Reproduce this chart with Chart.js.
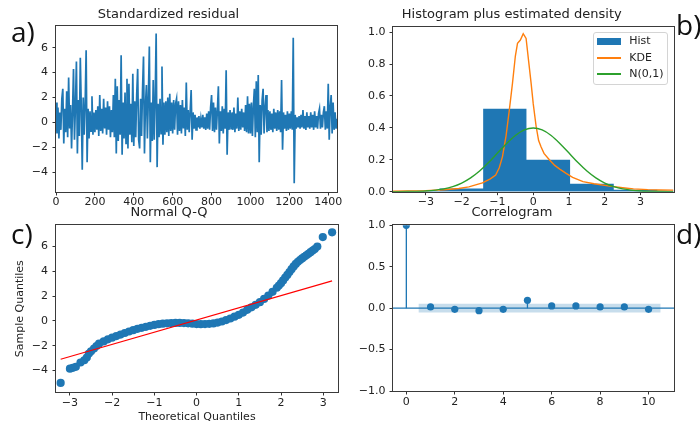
<!DOCTYPE html>
<html>
<head>
<meta charset="utf-8">
<script src="https://cdn.jsdelivr.net/npm/chart.js@4.4.1/dist/chart.umd.min.js"></script>
<style>
  body { margin: 0; background: #fff; }
  #fig { position: relative; width: 700px; height: 425px; overflow: hidden; }
  canvas { position: absolute; }
  .panel { position: absolute; font-family: "Open Sans", sans-serif; font-size: 28px; line-height: 28px; color: #111; }
  #legend {
    position: absolute; left: 593px; top: 32px; width: 75px; height: 53px;
    box-sizing: border-box; border: 1px solid #d4d4d4; border-radius: 3px;
    background: rgba(255,255,255,0.85); padding: 0 0 0 2.7px;
    font-family: "DejaVu Sans", sans-serif; font-size: 11px; color: #222;
  }
  #legend .row { height: 16.5px; line-height: 16.5px; white-space: nowrap; }
  #legend .key { display: inline-block; width: 24px; margin-right: 8.6px; vertical-align: middle; }
</style>
</head>
<body>
<div id="fig">
  <canvas id="resid" width="345" height="212" style="left:0;top:0"></canvas>
  <canvas id="hist" width="350" height="212" style="left:350px;top:0"></canvas>
  <canvas id="qq" width="345" height="227" style="left:0;top:198px"></canvas>
  <canvas id="acf" width="350" height="227" style="left:350px;top:198px"></canvas>
  <div class="panel" style="left:11px;top:17px">a)</div>
  <div class="panel" style="left:676px;top:10px">b)</div>
  <div class="panel" style="left:11px;top:219px">c)</div>
  <div class="panel" style="left:676px;top:219px">d)</div>
  <div id="legend">
    <div class="row"><span class="key" style="height:7px;background:#1f77b4"></span>Hist</div>
    <div class="row"><span class="key" style="height:2px;background:#ff7f0e"></span>KDE</div>
    <div class="row"><span class="key" style="height:2px;background:#2ca02c"></span>N(0,1)</div>
  </div>
</div>
<script>
// a) standardized residual, one reading every 5 observations
const residualSpacing = 5;
const residual = [
  1.6, -0.9, 1.2, -1.3, 0.8, -0.6, 1.9, 2.7, -1.7, 1.1, -0.8, 2.5, -1.2, 3.6, -0.5, 1.4, -2.1, 0.9, 4.3, -1.4,
  1.3, 4.9, -2.5, 1.8, -1.1, 5.2, 1.2, -3.8, 2.0, -1.0, 1.5, 5.8, -3.2, 1.1, -1.3, 0.9, -0.7, 2.1, -1.0, 0.8,
  -0.8, 1.0, -0.6, 1.3, -1.1, 2.2, -0.7, 1.1, -0.9, 1.9, -0.5, 1.2, -1.0, 1.7, -0.6, 1.3, -1.2, 1.0, -0.8, 2.2,
  -1.2, 3.5, -2.5, 2.9, -1.5, 1.8, -1.0, 5.4, -2.6, 1.6, -1.3, 2.4, -1.7, 3.5, -2.1, 3.1, -1.0, 1.5, -1.6, 3.9,
  -1.9, 1.7, -1.2, 2.2, 4.3, -1.4, -2.1, 1.9, -1.1, 2.6, 5.3, -2.5, 1.4, 3.0, -1.3, 2.0, 6.1, -3.2, 1.6, -1.5,
  3.4, -1.4, 1.8, 7.15, -3.6, 1.5, -1.2, 1.9, -0.9, 4.5, -1.8, 1.6, -1.0, 1.7, -0.8, 2.0, -1.1, 2.3, -0.7, 1.6,
  -0.9, 1.8, -0.6, 1.5, 1.9, -1.0, 1.7, -0.7, 1.4, -0.9, 1.8, -0.5, 1.2, -1.1, 3.2, -0.6, 1.0, -0.8, 0.9, 2.6,
  -1.4, 0.8, -0.5, 0.6, -0.6, 0.4, -0.4, 0.5, -0.5, 0.3, -0.4, 0.6, -0.5, 0.4, -0.6, 0.7, -0.5, 0.9, -0.6, 1.2,
  2.2, -0.7, 1.6, -0.8, 1.2, -0.6, 1.0, 2.9, -1.7, 0.9, -0.7, 1.3, -0.9, 1.1, -0.5, 4.2, -2.6, 0.8, -0.6, 1.0,
  -0.5, 0.8, -0.6, 1.2, -0.8, 0.7, -0.5, 2.0, -0.7, 0.9, -0.6, 1.1, -0.4, 0.8, -0.7, 1.4, -0.8, 2.1, -0.9, 1.5,
  -0.9, 1.6, -1.1, 1.3, 2.7, -1.2, 3.3, -0.8, 3.8, -3.2, 1.4, -1.0, 1.8, 2.7, -0.9, 1.2, 2.2, -0.8, 1.0, -0.7,
  0.9, -0.6, 0.7, -0.8, 1.1, -0.5, 0.8, -0.7, 1.0, -0.6, 0.9, -0.8, 3.4, -2.2, 0.8, -0.5, 0.6, -0.7, 0.9, -0.6,
  0.7, -0.5, 0.9, -0.6, 6.8, -4.9, 0.6, -0.5, 0.4, -0.4, 0.5, -0.5, 0.6, -0.4, 1.0, -0.5, 0.5, -0.6, 0.8, -0.4,
  0.5, -0.5, 0.8, -0.4, 0.6, -0.6, 0.9, -0.4, 0.5, -0.5, 0.7, 1.1, -0.5, 0.6, -0.4, 0.8, 1.3, -0.6, 0.9, -0.5,
  3.1, -1.4, 1.2, 2.2, -0.9, 1.6, -0.6, 0.8, -0.5, 0.3
];
const residXTicks = [0, 200, 400, 600, 800, 1000, 1200, 1400];
const residYTicks = [-4, -2, 0, 2, 4, 6];

// b) histogram + densities
const histEdges = [-5.06, -3.84, -2.62, -1.40, -0.19, 1.03, 2.25, 3.47, 4.69, 5.91, 7.13];
const histDensity = [0.002, 0.004, 0.02, 0.52, 0.20, 0.05, 0.012, 0.006, 0.003, 0.002];
const kdeX = [-3.92, -3.5, -3.0, -2.5, -2.08, -1.8, -1.42, -1.2, -1.05, -0.95, -0.86, -0.76, -0.67, -0.58, -0.5,
  -0.44, -0.36, -0.28, -0.2, -0.13, -0.06, 0.0, 0.08, 0.15, 0.22, 0.3, 0.45, 0.6, 0.75, 0.92, 1.1, 1.39, 1.7,
  2.14, 2.5, 2.8, 3.2, 3.5, 3.92];
const kdeY = [0.003, 0.005, 0.007, 0.012, 0.02, 0.03, 0.055, 0.08, 0.105, 0.15, 0.22, 0.35, 0.51, 0.68, 0.85,
  0.93, 0.95, 0.99, 0.96, 0.82, 0.68, 0.55, 0.41, 0.32, 0.28, 0.24, 0.2, 0.165, 0.14, 0.115, 0.09, 0.063, 0.05,
  0.035, 0.025, 0.018, 0.013, 0.011, 0.01];
const normX = [-3.92, -3.5, -3.0, -2.5, -2.25, -2.0, -1.75, -1.5, -1.25, -1.0, -0.75, -0.5, -0.25, 0.0,
  0.25, 0.5, 0.75, 1.0, 1.25, 1.5, 1.75, 2.0, 2.25, 2.5, 3.0, 3.5, 3.92];
const normY = [0.0002, 0.0009, 0.0044, 0.0175, 0.0317, 0.054, 0.0863, 0.1295, 0.1826, 0.242, 0.3011, 0.352, 0.3867, 0.399,
  0.3867, 0.352, 0.3011, 0.242, 0.1826, 0.1295, 0.0863, 0.054, 0.0317, 0.0175, 0.0044, 0.0009, 0.0002];
const histXTicks = [-3, -2, -1, 0, 1, 2, 3];
const histYTicks = [0, 0.2, 0.4, 0.6, 0.8, 1.0];

// c) normal Q-Q
const qqTheoretical = [-3.22, -3.0, -2.93, -2.86, -2.75, -2.66, -2.6, -2.55, -2.5, -2.43, -2.37, -2.31, -2.2, -2.1,
  -2.0, -1.9, -1.8, -1.7, -1.6, -1.5, -1.4, -1.3, -1.2, -1.1, -1.0, -0.9, -0.8, -0.7, -0.6, -0.5, -0.4, -0.3, -0.2,
  -0.1, 0.0, 0.1, 0.2, 0.3, 0.4, 0.5, 0.6, 0.7, 0.8, 0.9, 1.0, 1.1, 1.2, 1.3, 1.4, 1.5, 1.6, 1.7, 1.8, 1.9, 1.95,
  2.0, 2.05, 2.1, 2.15, 2.2, 2.25, 2.3, 2.35, 2.4, 2.45, 2.5, 2.55, 2.6, 2.65, 2.7, 2.75, 2.8, 2.86, 2.99, 3.21];
const qqSample = [-5.0, -3.85, -3.78, -3.7, -3.35, -3.17, -2.95, -2.63, -2.45, -2.23, -2.02, -1.83, -1.65, -1.48,
  -1.35, -1.22, -1.1, -0.97, -0.85, -0.74, -0.63, -0.55, -0.47, -0.39, -0.32, -0.26, -0.22, -0.19, -0.17, -0.16,
  -0.16, -0.17, -0.19, -0.22, -0.25, -0.26, -0.25, -0.23, -0.2, -0.13, -0.04, 0.07, 0.2, 0.35, 0.5, 0.68, 0.9,
  1.1, 1.3, 1.52, 1.78, 2.05, 2.35, 2.68, 2.86, 3.05, 3.27, 3.5, 3.72, 3.95, 4.18, 4.4, 4.6, 4.78, 4.92, 5.05,
  5.18, 5.3, 5.42, 5.55, 5.68, 5.8, 6.0, 6.77, 7.15];
const qqLineX = [-3.22, 3.21];
const qqLineY = [-3.09, 3.23];
const qqXTicks = [-3, -2, -1, 0, 1, 2, 3];
const qqYTicks = [-4, -2, 0, 2, 4, 6];

// d) correlogram
const acfLags = [0, 1, 2, 3, 4, 5, 6, 7, 8, 9, 10];
const acfValues = [1.0, 0.015, -0.014, -0.03, -0.014, 0.095, 0.027, 0.027, 0.015, 0.015, -0.014];
const confLags = [0.5, 10.5];
const confHalfWidth = 0.053;
const acfXTicks = [0, 2, 4, 6, 8, 10];
const acfYTicks = [-1, -0.5, 0, 0.5, 1];

const BLUE = '#1f77b4';
Chart.defaults.font.family = '"DejaVu Sans", sans-serif';
Chart.defaults.font.size = 11;
Chart.defaults.color = '#222';
Chart.defaults.animation = false;
Chart.defaults.events = [];

const minus = s => String(s).replace('-', '\u2212');
const fmtInt = v => minus(v);
const fmt1 = v => minus(v.toFixed(1));

// box around the axes, like matplotlib spines
const frame = {
  id: 'frame',
  afterDatasetsDraw(chart) {
    const { ctx, chartArea: a } = chart;
    ctx.save();
    ctx.strokeStyle = '#3a3a3a';
    ctx.lineWidth = 1;
    ctx.strokeRect(Math.round(a.left) - 0.5, Math.round(a.top) - 0.5,
      Math.round(a.right - a.left) + 1, Math.round(a.bottom - a.top) + 1);
    ctx.restore();
  }
};

function axis(o) {
  return {
    type: 'linear', min: o.min, max: o.max,
    border: { display: false },
    grid: { drawOnChartArea: false, tickLength: 3.5, tickColor: '#333' },
    ticks: { autoSkip: false, maxRotation: 0, padding: o.pad, callback: o.fmt },
    title: o.title ? { display: true, text: o.title, font: { size: 11 }, padding: o.titlePad } : { display: false },
    afterBuildTicks: s => { s.ticks = o.ticks.map(v => ({ value: v })); },
    afterFit: s => { if (o.width) s.width = o.width; if (o.height) s.height = o.height; }
  };
}

function opts(title, titlePad, padRight, x, y) {
  return {
    responsive: false,
    devicePixelRatio: 1,
    layout: { padding: { left: 0, right: padRight, top: 0, bottom: 0 }, autoPadding: false },
    plugins: {
      legend: { display: false },
      tooltip: { enabled: false },
      title: { display: true, text: title, font: { size: 13, weight: 'normal' }, color: '#222', padding: titlePad }
    },
    scales: { x: axis(x), y: axis(y) }
  };
}

const pts = (xs, ys) => xs.map((x, i) => ({ x, y: ys[i] }));

// a) residual series
new Chart(document.getElementById('resid'), {
  type: 'line',
  data: { datasets: [{
    data: residual.map((v, i) => ({ x: i * residualSpacing, y: v })),
    borderColor: BLUE, borderWidth: 1.7, pointRadius: 0, tension: 0
  }] },
  options: opts('Standardized residual', { top: 7, bottom: 3.4 }, 8,
    { min: 0, max: 1445, ticks: residXTicks, fmt: fmtInt, pad: 0.5, height: 20 },
    { min: -5.6, max: 7.75, ticks: residYTicks, fmt: fmtInt, pad: 4.5, width: 56 }),
  plugins: [frame]
});

// b) histogram plus densities
const histPts = pts(histEdges, histDensity.concat([0]));
new Chart(document.getElementById('hist'), {
  type: 'line',
  data: { datasets: [
    { label: 'N(0,1)', data: pts(normX, normY), borderColor: '#2ca02c', borderWidth: 1.4,
      pointRadius: 0, cubicInterpolationMode: 'monotone', order: 1 },
    { label: 'KDE', data: pts(kdeX, kdeY), borderColor: '#ff7f0e', borderWidth: 1.4,
      pointRadius: 0, tension: 0, order: 2 },
    { label: 'Hist', data: histPts, stepped: true, fill: 'origin', backgroundColor: BLUE,
      borderWidth: 0, borderColor: BLUE, pointRadius: 0, order: 3 }
  ] },
  options: opts('Histogram plus estimated density', { top: 7, bottom: 3.9 }, 26.5,
    { min: -3.92, max: 3.92, ticks: histXTicks, fmt: fmtInt, pad: 0.5, height: 20.3 },
    { min: 0, max: 1.035, ticks: histYTicks, fmt: fmt1, pad: 4, width: 43 }),
  plugins: [frame]
});

// c) normal Q-Q
new Chart(document.getElementById('qq'), {
  type: 'line',
  data: { datasets: [
    { data: pts(qqLineX, qqLineY), borderColor: '#ff0000', borderWidth: 1.2, pointRadius: 0, order: 1 },
    { data: pts(qqTheoretical, qqSample), showLine: false, pointRadius: 4.1, pointBorderWidth: 0,
      pointBackgroundColor: BLUE, order: 2 }
  ] },
  options: opts('Normal Q-Q', { top: 7.2, bottom: 4.5 }, 7,
    { min: -3.33, max: 3.35, ticks: qqXTicks, fmt: fmtInt, pad: 1.5, height: 33,
      title: 'Theoretical Quantiles', titlePad: { top: 0, bottom: 1.4 } },
    { min: -5.73, max: 7.72, ticks: qqYTicks, fmt: fmtInt, pad: 4.5, width: 56,
      title: 'Sample Quantiles', titlePad: { top: 13.4, bottom: 0 } }),
  plugins: [frame]
});

// d) correlogram
const acfXMin = -0.55, acfXMax = 11.05;
const stems = [];
acfLags.forEach((lag, i) => { stems.push({ x: lag, y: 0 }, { x: lag, y: acfValues[i] }, { x: lag, y: NaN }); });
new Chart(document.getElementById('acf'), {
  type: 'line',
  data: { datasets: [
    { data: pts(acfLags, acfValues), showLine: false, pointRadius: 3.6, pointBorderWidth: 0,
      pointBackgroundColor: BLUE, order: 1 },
    { data: stems, borderColor: BLUE, borderWidth: 1.3, pointRadius: 0, spanGaps: false, order: 2 },
    { data: [{ x: acfXMin, y: 0 }, { x: acfXMax, y: 0 }], borderColor: BLUE, borderWidth: 1.3, pointRadius: 0, order: 3 },
    { data: confLags.map(x => ({ x, y: confHalfWidth })), fill: { value: -confHalfWidth },
      backgroundColor: 'rgba(31,119,180,0.25)', borderWidth: 0, pointRadius: 0, order: 4 }
  ] },
  options: opts('Correlogram', { top: 7.2, bottom: 4.5 }, 26,
    { min: acfXMin, max: acfXMax, ticks: acfXTicks, fmt: fmtInt, pad: 1.5, height: 34 },
    { min: -1, max: 1, ticks: acfYTicks, fmt: fmt1, pad: 4, width: 43 }),
  plugins: [frame]
});
</script>
</body>
</html>
